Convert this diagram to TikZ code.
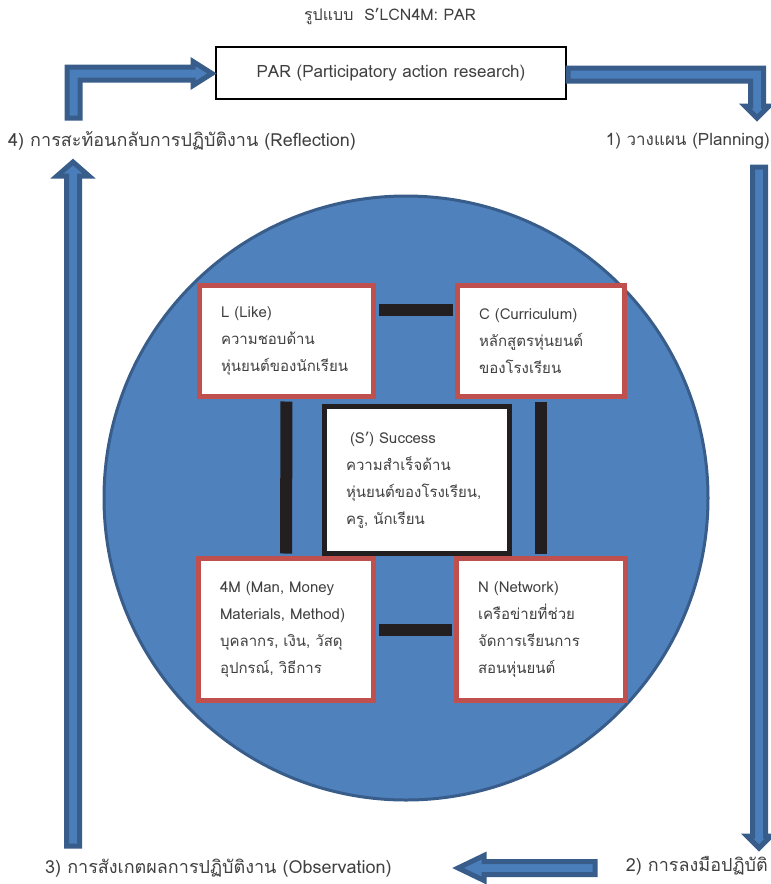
\documentclass[tikz,border=0pt]{standalone}
\usepackage{fontspec}
\setmainfont[Script=Thai]{Loma}
\usepackage{tikz}
\usetikzlibrary{positioning,calc}

\definecolor{circfill}{HTML}{4F81BD}
\definecolor{circline}{HTML}{385D8A}
\definecolor{arrfill}{HTML}{4A7EBB}
\definecolor{boxred}{HTML}{C0504D}
\definecolor{linkdark}{HTML}{231F20}
\definecolor{txtgray}{HTML}{404040}

\begin{document}
\begin{tikzpicture}[
  x=1pt, y=-1pt,
  font=\fontsize{15}{27}\selectfont,
  text=txtgray,
  part/.style={
    rectangle, draw=boxred, fill=white, line width=5pt,
    inner xsep=21.5pt, inner ysep=0pt, align=left
  },
  core/.style={part, draw=linkdark},
  link/.style={draw=linkdark, line width=12pt, shorten <=2.5pt, shorten >=2.5pt},
  blockarr/.style={fill=arrfill, draw=circline, line width=5pt, line join=miter},
  lbl/.style={inner sep=0pt, font=\fontsize{18}{22}\selectfont}
]
\useasboundingbox (0,0) rectangle (771,884);

% --- Title and PAR box ---
\node[font=\fontsize{16}{20}\selectfont] (title) at (390,17) {รูปแบบ\ \ S’LCN4M: PAR};
\node[draw=black, line width=1.5pt, minimum width=350pt, minimum height=52pt,
  font=\fontsize{17}{20}\selectfont]
  (par) at (391,73) {PAR (Participatory action research)};

% --- Cycle labels ---
\node[lbl, anchor=west] (reflect) at (8,141) {4) การสะท้อนกลับการปฏิบัติงาน (Reflection)};
\node[lbl, anchor=east, font=\fontsize{17}{20}\selectfont] (plan) at (770,141) {1) วางแผน (Planning)};
\node[lbl, anchor=east] (act) at (768,866) {2) การลงมือปฏิบัติ};
\node[lbl, anchor=west] (observe) at (45,868) {3) การสังเกตผลการปฏิบัติงาน (Observation)};

% --- Block arrows round the cycle ---
\filldraw[blockarr] (67,118) -- (67,67) -- (193,67) -- (193,61.5) -- (212,73.5)
  -- (193,85.5) -- (193,80) -- (80,80) -- (80,118) -- cycle;
\filldraw[blockarr] (568,68) -- (763.5,68) -- (763.5,106) -- (769,106) -- (757,118)
  -- (745,106) -- (750.5,106) -- (750.5,81) -- (568,81) -- cycle;
\filldraw[blockarr] (752.5,167) -- (765.5,167) -- (765.5,836) -- (771,836) -- (759,848)
  -- (747,836) -- (752.5,836) -- cycle;
\filldraw[blockarr] (595,861.5) -- (595,874.5) -- (484,874.5) -- (484,880.5) -- (458,868)
  -- (484,855.5) -- (484,861.5) -- cycle;
\filldraw[blockarr] (66.5,846) -- (66.5,176) -- (57,176) -- (73,162) -- (89,176)
  -- (79.5,176) -- (79.5,846) -- cycle;

% --- The model in the circle ---
\node[circle, fill=circfill, draw=circline, line width=3pt, minimum size=604pt]
  (circ) at (406,498) {};

\node[part, text width=131pt, minimum height=111pt] (like) at (286.5,341)
  {L (Like)\\ ความชอบด้าน\\ หุ่นยนต์ของนักเรียน};
\node[part, text width=124pt, minimum height=111pt] (curr) at (541,341)
  {C (Curriculum)\\ หลักสูตรหุ่นยนต์\\ ของโรงเรียน};
\node[part, text width=132pt, minimum height=142pt] (fourm) at (286,629.5)
  {4M (Man, Money\\ Materials, Method)\\ บุคลากร, เงิน, วัสดุ\\ อุปกรณ์, วิธีการ};
\node[part, text width=126pt, minimum height=142pt] (net) at (541,629.5)
  {N (Network)\\ เครือข่ายที่ช่วย\\ จัดการเรียนการ\\ สอนหุ่นยนต์};
\node[core, text width=142pt, minimum height=147pt] (succ) at (417,480)
  {\hspace*{4pt}(S’) Success\\ ความสำเร็จด้าน\\ หุ่นยนต์ของโรงเรียน,\\ ครู, นักเรียน};

% --- Links between the parts ---
\draw[link] ([yshift=31pt]like.east) -- ([yshift=31pt]curr.west);
\draw[link] (like.south) -- (fourm.north);
\draw[link] (curr.south) -- (net.north);
\draw[link] (fourm.east) -- (net.west);

\end{tikzpicture}
\end{document}
